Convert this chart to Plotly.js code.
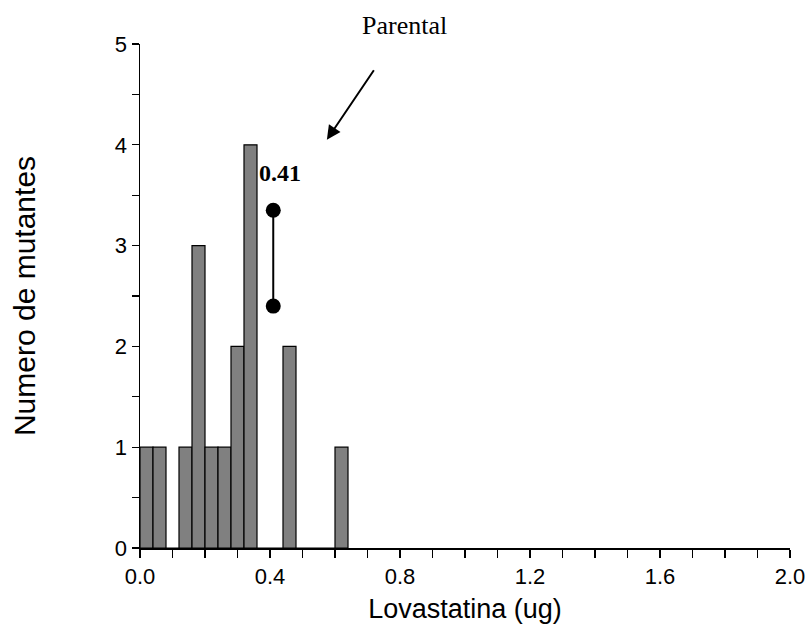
<!DOCTYPE html>
<html>
<head>
<meta charset="utf-8">
<script src="https://cdn.plot.ly/plotly-3.0.1.min.js"></script>
<style>html,body{margin:0;padding:0;background:#fff;}#chart{width:806px;height:624px;}</style>
</head>
<body>
<div id="chart"></div>
<script>
// Histogram bins (centre of each 0.04 ug bin) and mutant counts
const binCenters = [0.02, 0.06, 0.10, 0.14, 0.18, 0.22, 0.26, 0.30, 0.34, 0.38, 0.42, 0.46, 0.50, 0.54, 0.58, 0.62];
const mutantCounts = [1, 1, 0, 1, 3, 1, 1, 2, 4, 0, 0, 2, 0, 0, 0, 1];
const binWidth = 0.04;

// Parental strain value, shown as a vertical segment with end points
const parentalX = [0.41, 0.41];
const parentalY = [3.35, 2.4];
const parentalLabel = '0.41';

const xTickVals = [0.0, 0.4, 0.8, 1.2, 1.6, 2.0];
const yTickVals = [0, 1, 2, 3, 4, 5];

const sans = 'Liberation Sans, Arial, sans-serif';
const serif = 'Liberation Serif, Times New Roman, serif';
const axisFont = {family: sans, size: 22, color: '#000'};

const traces = [
  {
    type: 'bar',
    x: binCenters,
    y: mutantCounts,
    width: binWidth,
    marker: {color: '#808080', line: {color: '#000', width: 1.2}},
    hoverinfo: 'x+y'
  },
  {
    type: 'scatter',
    mode: 'lines+markers',
    x: parentalX,
    y: parentalY,
    line: {color: '#000', width: 2},
    marker: {color: '#000', size: 15},
    cliponaxis: false
  }
];

const layout = {
  width: 806,
  height: 624,
  margin: {l: 140, r: 16, t: 44, b: 76},
  paper_bgcolor: '#fff',
  plot_bgcolor: '#fff',
  showlegend: false,
  bargap: 0,
  xaxis: {
    range: [0, 2],
    showgrid: false,
    zeroline: false,
    showline: true,
    linecolor: '#000',
    linewidth: 1.5,
    ticks: 'outside',
    ticklen: 8,
    tickwidth: 1.2,
    tickcolor: '#000',
    tickvals: xTickVals,
    ticktext: xTickVals.map(v => v.toFixed(1)),
    tickfont: axisFont,
    minor: {dtick: 0.1, ticks: 'outside', ticklen: 8, tickwidth: 1.2, tickcolor: '#000', showgrid: false},
    title: {text: 'Lovastatina (ug)', font: {family: sans, size: 27, color: '#000'}, standoff: 15}
  },
  yaxis: {
    range: [0, 5],
    showgrid: false,
    zeroline: false,
    showline: true,
    linecolor: '#000',
    linewidth: 1.5,
    ticks: 'outside',
    ticklen: 7,
    tickwidth: 1.2,
    tickcolor: '#000',
    tickvals: yTickVals,
    tickfont: axisFont,
    minor: {dtick: 0.5, ticks: 'outside', ticklen: 7, tickwidth: 1.2, tickcolor: '#000', showgrid: false},
    title: {text: 'Numero de mutantes', font: {family: sans, size: 30, color: '#000'}, standoff: 70}
  },
  annotations: [
    {
      x: 0.43, y: 3.72, xref: 'x', yref: 'y',
      text: '<b>' + parentalLabel + '</b>',
      showarrow: false,
      font: {family: serif, size: 24, color: '#000'}
    },
    {
      x: 0.815, y: 1.036, xref: 'x', yref: 'paper',
      xanchor: 'center', yanchor: 'middle',
      text: 'Parental',
      showarrow: false,
      font: {family: serif, size: 26, color: '#000'}
    },
    {
      x: 0.575, y: 4.05, xref: 'x', yref: 'y',
      ax: 48, ay: -71,
      text: '',
      showarrow: true,
      arrowhead: 2,
      arrowsize: 1.4,
      arrowwidth: 2,
      arrowcolor: '#000'
    }
  ]
};

Plotly.newPlot('chart', traces, layout, {displayModeBar: false, staticPlot: true});
</script>
</body>
</html>
